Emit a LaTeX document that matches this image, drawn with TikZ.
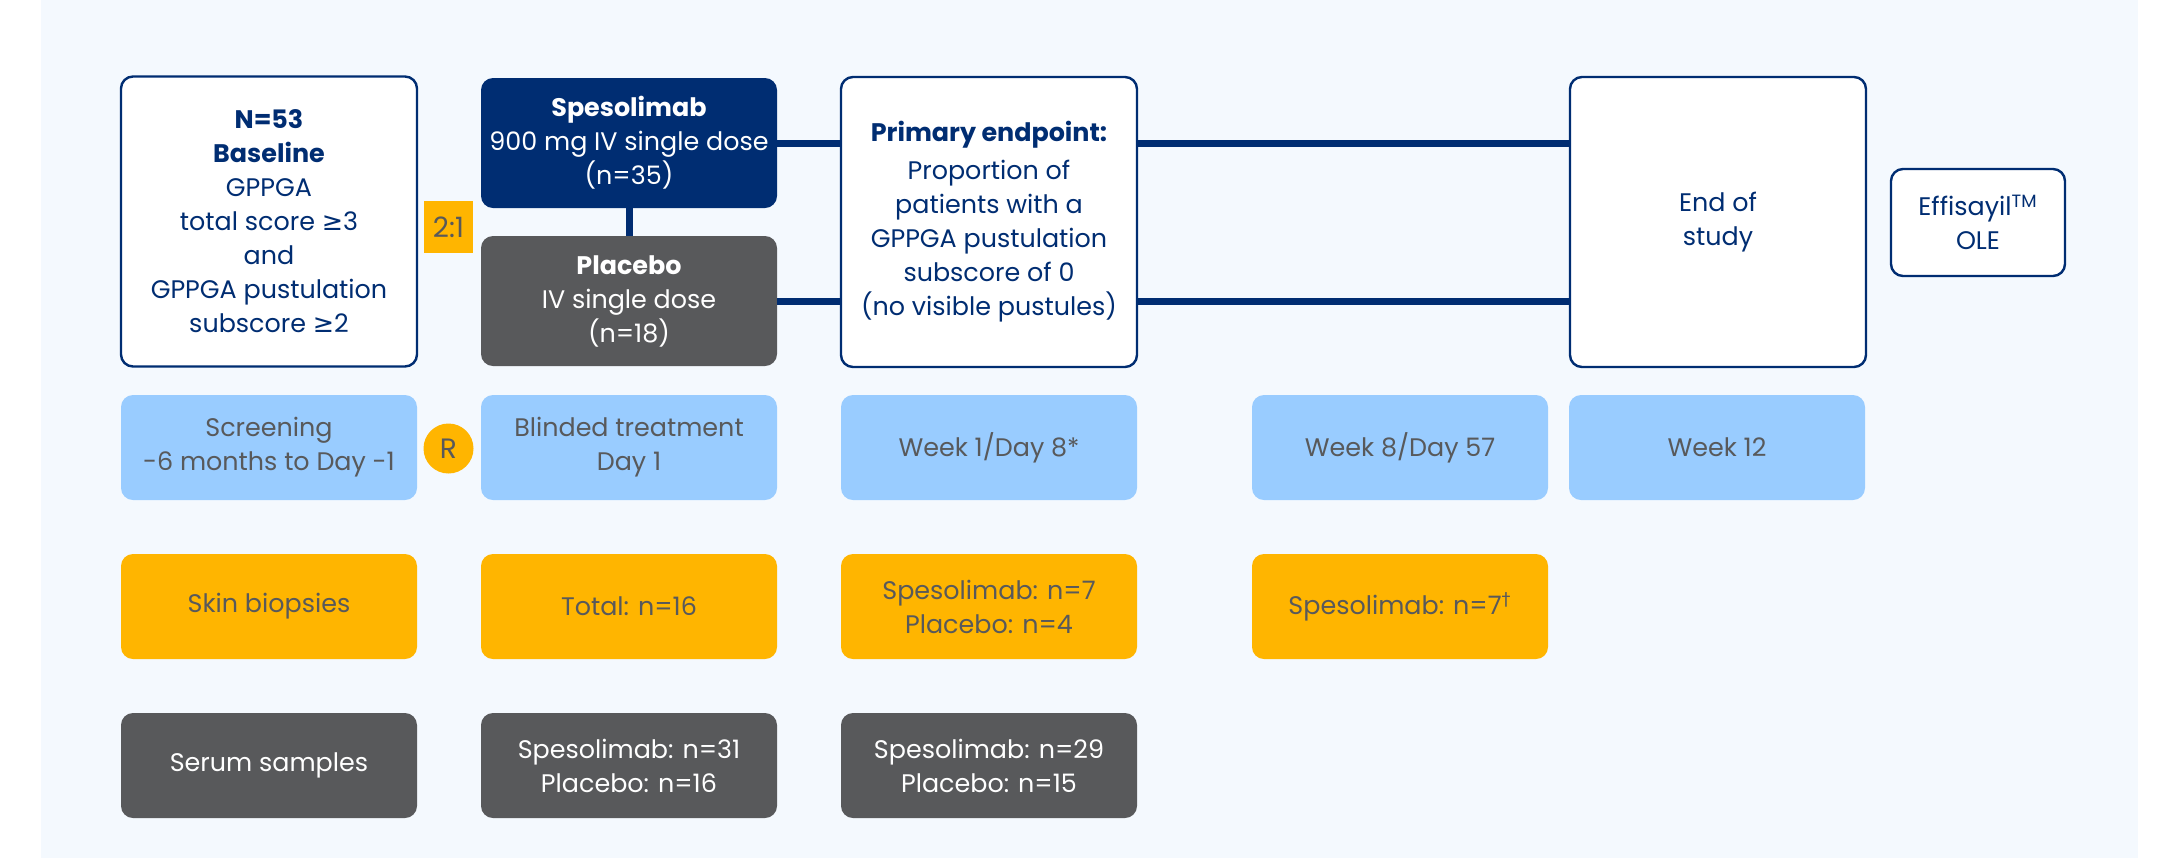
\documentclass[tikz,border=0pt]{standalone}
\usepackage{fontspec}
\setmainfont{Poppins}
\newfontfamily\symf{DejaVu Sans}
\newcommand{\myge}{{\symf ≥}}
\newcommand{\mydag}{{\symf †}}
\definecolor{navy}{HTML}{002D72}
\definecolor{dgray}{HTML}{58595B}
\definecolor{lblue}{HTML}{99CCFF}
\definecolor{amber}{HTML}{FFB500}
\definecolor{bgblue}{HTML}{F4F9FE}
\begin{document}
\begin{tikzpicture}[x=0.5pt,y=-0.5pt,
  every node/.style={font=\fontsize{12.7}{17}\selectfont, align=center, inner sep=0pt},
  wbox/.style={draw=navy, line width=1.2pt, fill=white, rounded corners=6pt, text=navy, minimum width=148pt, minimum height=145pt},
  armbox/.style={rounded corners=6pt, text=white, minimum width=148pt, minimum height=65pt},
  tbox/.style={rounded corners=6pt, fill=lblue, text=dgray, minimum width=148pt, minimum height=52.5pt},
  ybox/.style={rounded corners=6pt, fill=amber, text=dgray, minimum width=148pt, minimum height=52.5pt},
  gbox/.style={rounded corners=6pt, fill=dgray, text=white, minimum width=148pt, minimum height=52.5pt},
  link/.style={draw=navy, line width=3.5pt}
]
\useasboundingbox (0,0) rectangle (2160,858);
\fill[white] (0,0) rectangle (2160,858);
\fill[bgblue] (41,0) rectangle (2138,858);

% top row
\node[wbox] (base) at (269,221.5) {\textbf{N=53}\\\textbf{Baseline}\\GPPGA\\total score \myge3\\and\\GPPGA pustulation\\subscore \myge2};
\node[armbox, fill=navy] (spe) at (629,143) {\textbf{Spesolimab}\\900 mg IV single dose\\(n=35)};
\node[armbox, fill=dgray] (pla) at (629,301) {\textbf{Placebo}\\IV single dose\\(n=18)};
\node[fill=amber, text=dgray, font=\fontsize{14}{17}\selectfont, minimum width=24.5pt, minimum height=26pt] (ratio) at (448.5,227) {2:1};
\node[wbox] (prim) at (989,222) {\textbf{Primary endpoint:}\\[2pt]Proportion of\\patients with a\\GPPGA pustulation\\subscore of 0\\(no visible pustules)};
\node[wbox] (eos) at (1718,222) {End of\\study};
\node[wbox, minimum width=87pt, minimum height=53.5pt] (ole) at (1978,222.5) {Effisayil\textsuperscript{TM}\\OLE};

\draw[link] (spe.south) -- (pla.north);
\draw[link] (spe.east) -- (spe.east -| prim.west);
\draw[link] (prim.east |- spe.east) -- (eos.west |- spe.east);
\draw[link] (pla.east) -- (pla.east -| prim.west);
\draw[link] (prim.east |- pla.east) -- (eos.west |- pla.east);

% timeline row
\node[tbox] (scr) at (269,447.5) {Screening\\-6 months to Day -1};
\node[circle, fill=amber, text=dgray, font=\fontsize{14}{17}\selectfont, minimum size=25pt] (r) at (448.5,448.5) {R};
\node[tbox] (d1) at (629,447.5) {Blinded treatment\\Day 1};
\node[tbox] (w1) at (989,447.5) {Week 1/Day 8*};
\node[tbox] (w8) at (1400,447.5) {Week 8/Day 57};
\node[tbox] (w12) at (1717,447.5) {Week 12};

% skin biopsies row
\node[ybox] (skin) at (269,606.5) {Skin biopsies};
\node[ybox] (sk1) at (629,606.5) {Total: n=16};
\node[ybox] (sk2) at (989,606.5) {Spesolimab: n=7\\Placebo: n=4};
\node[ybox] (sk3) at (1400,606.5) {Spesolimab: n=7\textsuperscript{\mydag}};

% serum row
\node[gbox] (ser) at (269,765.5) {Serum samples};
\node[gbox] (se1) at (629,765.5) {Spesolimab: n=31\\Placebo: n=16};
\node[gbox] (se2) at (989,765.5) {Spesolimab: n=29\\Placebo: n=15};
\end{tikzpicture}
\end{document}
